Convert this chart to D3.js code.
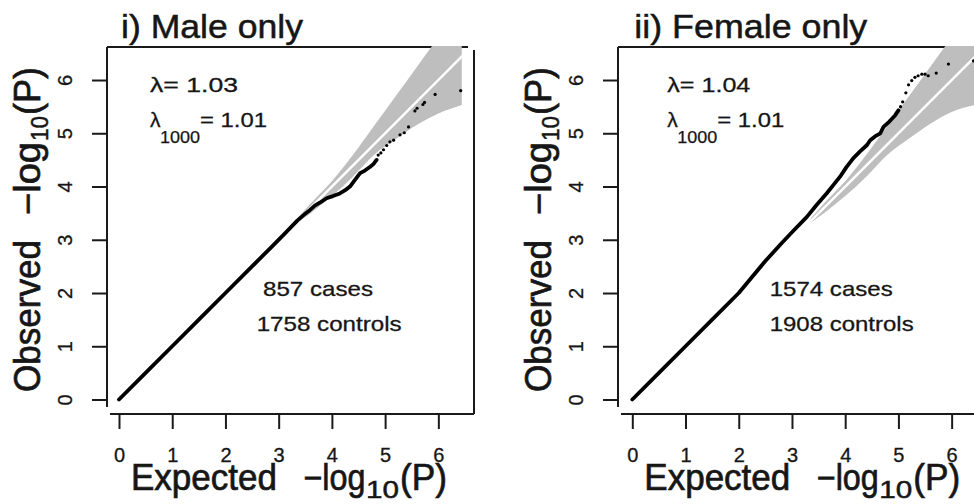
<!DOCTYPE html>
<html><head><meta charset="utf-8">
<script src="https://cdn.jsdelivr.net/npm/d3@7/dist/d3.min.js"></script>
<style>
html,body{margin:0;padding:0;background:#fff;}
svg{display:block;font-family:"Liberation Sans",Arial,sans-serif;}
</style></head>
<body>
<svg id="chart" width="974" height="504"></svg>
<script>
// ---------- data ----------
const xTicks = [0, 1, 2, 3, 4, 5, 6];
const yTicks = [0, 1, 2, 3, 4, 5, 6];
const titles = ["i) Male only", "ii) Female only"];
const lambdaValues = ["1.03", "1.04"];
const lambda1000Values = ["1.01", "1.01"];
const caseLabels = ["857 cases", "1574 cases"];
const controlLabels = ["1758 controls", "1908 controls"];

// dense part of the QQ points (drawn as a thick trace)
const maleDenseE = [0, 0.5, 1, 1.5, 2, 2.5, 2.84, 3.1, 3.35, 3.5, 3.59, 3.68, 3.78, 3.90, 4.02, 4.15, 4.25, 4.34, 4.43, 4.53, 4.62, 4.72, 4.78, 4.84];
const maleDenseO = [0, 0.5, 1, 1.5, 2, 2.5, 2.84, 3.1, 3.36, 3.49, 3.56, 3.64, 3.70, 3.78, 3.82, 3.87, 3.93, 4.0, 4.12, 4.25, 4.30, 4.37, 4.42, 4.50];
// sparse tail points
const maleTailE = [4.87, 4.92, 4.97, 5.03, 5.09, 5.16, 5.28, 5.36, 5.44, 5.56, 5.60, 5.71, 5.74, 5.94, 6.42];
const maleTailO = [4.59, 4.63, 4.69, 4.77, 4.84, 4.87, 4.97, 5.01, 5.12, 5.42, 5.47, 5.54, 5.58, 5.73, 5.80];

const femaleDenseE = [0, 0.5, 1, 1.5, 2, 2.25, 2.5, 2.8, 3.0, 3.28, 3.45, 3.65, 3.78, 3.90, 4.02, 4.15, 4.28, 4.41, 4.47, 4.56, 4.66, 4.72, 4.83, 4.94, 5.0];
const femaleDenseO = [0, 0.5, 1, 1.5, 2, 2.3, 2.6, 2.93, 3.14, 3.43, 3.64, 3.87, 4.03, 4.18, 4.36, 4.53, 4.66, 4.78, 4.87, 4.94, 5.0, 5.12, 5.22, 5.34, 5.43];
const femaleTailE = [5.04, 5.08, 5.14, 5.19, 5.25, 5.31, 5.37, 5.44, 5.50, 5.56, 5.71, 5.94, 6.41];
const femaleTailO = [5.50, 5.59, 5.76, 5.91, 5.99, 6.05, 6.08, 6.11, 6.11, 6.08, 6.13, 6.30, 6.36];

// confidence band (expected, lower, upper)
const bandE = [3.35, 3.6, 4.0, 4.4, 4.8, 5.2, 5.6, 6.0, 6.44];
const maleBandLo = [3.32, 3.50, 3.82, 4.19, 4.60, 4.89, 5.16, 5.37, 5.53];
const maleBandHi = [3.40, 3.68, 4.10, 4.60, 5.15, 5.70, 6.25, 6.80, 7.40];
const femaleBandLo = [3.32, 3.50, 3.82, 4.19, 4.60, 4.90, 5.18, 5.40, 5.53];
const femaleBandHi = [3.40, 3.68, 4.10, 4.60, 5.15, 5.70, 6.25, 6.80, 7.40];
// reference (expected = observed) line
const refLine = [3.3, 6.8];

// ---------- layout ----------
const xlim = [-0.2255, 6.670];
const ylim = [-0.272, 6.62];
const panels = [
  {title: titles[0], lam: lambdaValues[0], lam1000: lambda1000Values[0], cases: caseLabels[0], controls: controlLabels[0],
   denseE: maleDenseE, denseO: maleDenseO, tailE: maleTailE, tailO: maleTailO, lo: maleBandLo, hi: maleBandHi,
   x0: 107, boxL: 107},
  {title: titles[1], lam: lambdaValues[1], lam1000: lambda1000Values[1], cases: caseLabels[1], controls: controlLabels[1],
   denseE: femaleDenseE, denseO: femaleDenseO, tailE: femaleTailE, tailO: femaleTailO, lo: femaleBandLo, hi: femaleBandHi,
   x0: 620.3, boxL: 618}
];
const plotW = 367, plotTop = 47, plotBottom = 414;
const svg = d3.select("#chart");
const ink = "#1a1a1a";
const txt = "#161616";

function label(g, x, y, s, size, len, heavy) {
  const t = g.append("text").attr("x", x).attr("y", y).attr("font-size", size).attr("fill", txt)
    .attr("stroke", txt).attr("stroke-width", heavy).text(s);
  if (len) t.attr("textLength", len).attr("lengthAdjust", "spacingAndGlyphs");
  return t;
}

panels.forEach((p, i) => {
  const x = d3.scaleLinear().domain(xlim).range([p.x0, p.x0 + plotW]);
  const y = d3.scaleLinear().domain(ylim).range([plotBottom, plotTop]);
  const g = svg.append("g");
  const boxR = p.x0 + plotW;

  // box lines
  g.append("line").attr("x1", p.boxL).attr("x2", p.boxL).attr("y1", plotTop).attr("y2", plotBottom - 7)
    .attr("stroke", ink).attr("stroke-width", 2);
  g.append("line").attr("x1", p.boxL + 3).attr("x2", boxR).attr("y1", plotBottom).attr("y2", plotBottom)
    .attr("stroke", ink).attr("stroke-width", 2);
  g.append("line").attr("x1", p.boxL).attr("x2", boxR - 6).attr("y1", plotTop).attr("y2", plotTop)
    .attr("stroke", ink).attr("stroke-width", 2);
  g.append("line").attr("x1", boxR).attr("x2", boxR).attr("y1", plotTop + 3).attr("y2", plotBottom)
    .attr("stroke", ink).attr("stroke-width", 2);

  // clip
  const cid = "clip" + i;
  svg.append("clipPath").attr("id", cid).append("rect")
    .attr("x", p.boxL + 1).attr("y", plotTop - 1).attr("width", boxR - p.boxL - 2).attr("height", plotBottom - plotTop);
  const pg = g.append("g").attr("clip-path", `url(#${cid})`);

  // band
  const band = bandE.map((e, k) => ({e, lo: p.lo[k], hi: p.hi[k]}));
  pg.append("path").datum(band)
    .attr("d", d3.area().x(d => x(d.e)).y0(d => y(d.lo)).y1(d => y(d.hi)).curve(d3.curveMonotoneX))
    .attr("fill", "#bebebe");
  pg.append("line").attr("x1", x(refLine[0])).attr("y1", y(refLine[0]))
    .attr("x2", x(refLine[1])).attr("y2", y(refLine[1]))
    .attr("stroke", "#fff").attr("stroke-width", 2.5);

  // dense trace
  const dense = p.denseE.map((e, k) => [e, p.denseO[k]]);
  pg.append("path").datum(dense)
    .attr("d", d3.line().x(d => x(d[0])).y(d => y(d[1])))
    .attr("fill", "none").attr("stroke", "#000").attr("stroke-width", 3.8)
    .attr("stroke-linejoin", "round").attr("stroke-linecap", "round");
  // tail points
  const tail = p.tailE.map((e, k) => [e, p.tailO[k]]);
  pg.selectAll("circle.pt").data(tail).join("circle").attr("class", "pt")
    .attr("cx", d => x(d[0])).attr("cy", d => y(d[1])).attr("r", 1.6).attr("fill", "#000");

  // axes
  const ax = g.append("g").attr("transform", `translate(0,${plotBottom})`)
    .call(d3.axisBottom(x).tickValues(xTicks).tickSize(15).tickFormat(d3.format("d")));
  ax.select(".domain").remove();
  ax.selectAll(".tick line").attr("stroke", ink).attr("stroke-width", 2);
  ax.selectAll(".tick text").attr("y", 48).attr("dy", null)
    .attr("font-size", 20).attr("fill", txt).attr("stroke", txt).attr("stroke-width", 0.3)
    .attr("font-family", "Liberation Sans, Arial, sans-serif");

  const ay = g.append("g").attr("transform", `translate(${p.boxL},0)`)
    .call(d3.axisLeft(y).tickValues(yTicks).tickSize(15).tickFormat(d3.format("d")));
  ay.select(".domain").remove();
  ay.selectAll(".tick line").attr("stroke", ink).attr("stroke-width", 2);
  ay.selectAll(".tick text").attr("x", null).attr("dy", null)
    .attr("transform", "translate(-35,0) rotate(-90)").attr("text-anchor", "middle")
    .attr("font-size", 20).attr("fill", txt).attr("stroke", txt).attr("stroke-width", 0.3)
    .attr("font-family", "Liberation Sans, Arial, sans-serif");

  // title
  label(g, x(0) + 2, 38, p.title, 34, i === 0 ? 182 : 233, 0.5);

  // x axis title (pieces)
  const bx = x(0);
  label(g, bx + 12, 490, "Expected", 36, 146, 0.7);
  label(g, bx + 184.5, 490, "\u2212log", 36, 62, 0.7);
  label(g, bx + 247, 498, "10", 24, 33, 0.5);
  label(g, bx + 281, 490, "(P)", 36, 47, 0.7);

  // y axis title (pieces, rotated)
  const yg = g.append("g").attr("transform", `translate(${p.boxL - 67},0) rotate(-90)`);
  // in rotated frame: x' = -screenY, y' = screenX offset
  label(yg, -392, 0, "Observed", 36, 152, 0.7);
  label(yg, -215, 0, "\u2212log", 36, 73, 0.7);
  label(yg, -141, 8, "10", 24, 25, 0.5);
  label(yg, -115, 0, "(P)", 36, 48, 0.7);

  // lambda annotations
  const ax0 = x(0) + 31 + (i ? 4 : 0);
  label(g, ax0, 92, "\u03bb= " + p.lam, 21, i ? 83 : 88, 0.3);
  label(g, ax0, 127, "\u03bb", 21, null, 0.3);
  label(g, ax0 + 10, 143, "1000", 16, 40, 0.25);
  label(g, ax0 + 50, 127, "= " + p.lam1000, 21, 67, 0.3);

  // sample sizes
  const cx0 = i ? x(0) + 137.4 : x(0) + 144;
  const ctx0 = i ? x(0) + 137.4 : x(0) + 137.7;
  label(g, cx0, 296, p.cases, 21, i ? 123 : 110, 0.3);
  label(g, ctx0, 331, p.controls, 21, i ? 144 : 145, 0.3);
});
</script>
</body></html>
